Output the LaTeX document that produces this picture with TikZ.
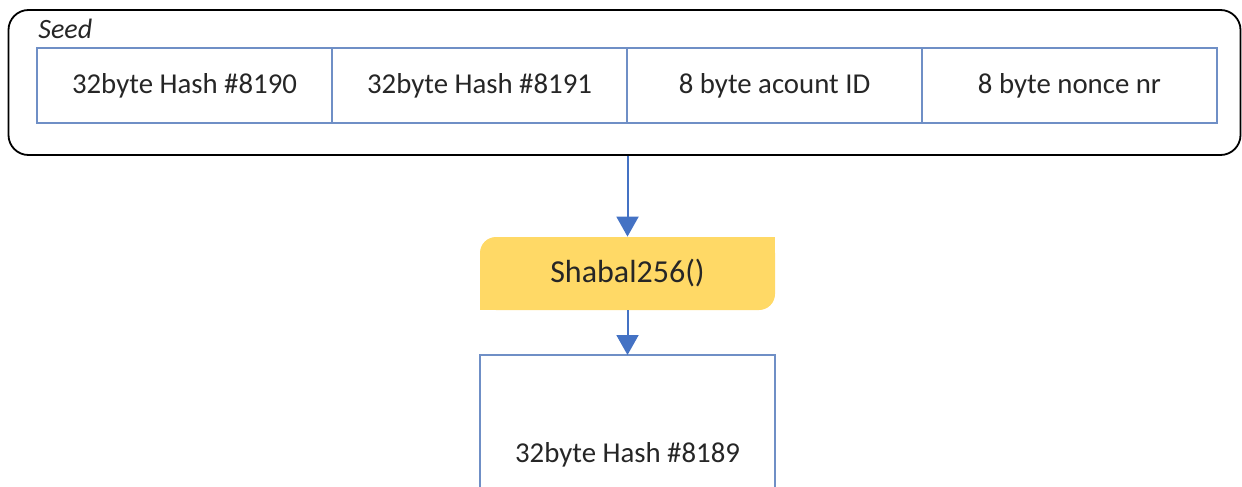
\documentclass[tikz,border=0pt]{standalone}
\usepackage{fontspec}
\setmainfont{Carlito}
\usetikzlibrary{arrows.meta,positioning}
\definecolor{cellblue}{HTML}{6F8FC6}
\definecolor{flowblue}{HTML}{4472C4}
\definecolor{shabalyellow}{HTML}{FFD966}
\definecolor{txtgray}{HTML}{262626}

\begin{document}
\begin{tikzpicture}[x=0.5pt, y=-0.5pt, node distance=0pt,
  cell/.style={draw=cellblue, line width=0.6pt, outer sep=0pt, inner sep=0pt,
    minimum width=147.5pt, minimum height=37.5pt, text=txtgray,
    font=\fontsize{14.4}{17}\selectfont},
  flow/.style={draw=flowblue, line width=1pt, -{Triangle[length=10pt,width=11pt]}}]
\useasboundingbox (0,0) rectangle (1242,487);
% seed container
\node[draw, line width=0.9pt, rounded corners=10pt, minimum width=616pt,
  minimum height=72.5pt] (seed) at (624.5,82.5) {};
\node[anchor=base west, inner sep=0pt, text=txtgray,
  font=\itshape\fontsize{14}{16}\selectfont] (seedlbl) at (38,39) {Seed};
\node[cell, anchor=north west] (h8190) at (37,48) {32byte Hash \#8190};
\node[cell, right=of h8190] (h8191) {32byte Hash \#8191};
\node[cell, right=of h8191] (acct) {8 byte acount ID};
\node[cell, right=of acct] (nonce) {8 byte nonce nr};
% hash function
\node[fill=shabalyellow, rounded corners=8pt, minimum width=147.5pt,
  minimum height=36.5pt, text=txtgray, font=\fontsize{16}{19}\selectfont]
  (shabal) at (627.5,273.5) {Shabal256()};
\fill[shabalyellow] (shabal.north east) rectangle ([xshift=-9pt,yshift=-9pt]shabal.north east);
\fill[shabalyellow] (shabal.south west) rectangle ([xshift=9pt,yshift=9pt]shabal.south west);
% result
\node[cell, anchor=north, minimum height=100pt] (h8189) at (627.5,355) {32byte Hash \#8189};
\draw[flow] (seed.south -| shabal.north) -- (shabal.north);
\draw[flow] (shabal.south) -- (h8189.north);
\end{tikzpicture}
\end{document}
